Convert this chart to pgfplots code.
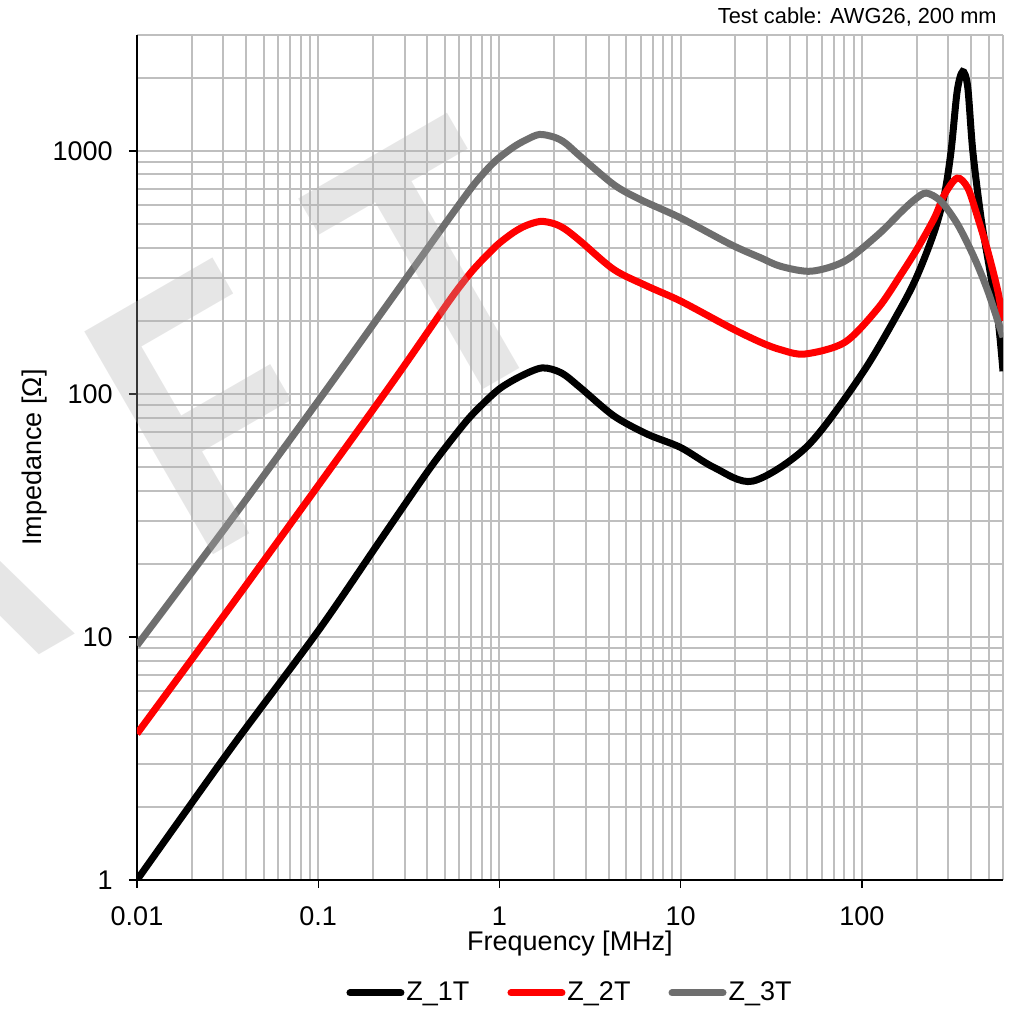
\documentclass[border=0pt]{standalone}
\usepackage{fontspec}
\setmainfont{Liberation Sans}
\usepackage{pgfplots}
\pgfplotsset{compat=1.18}

\definecolor{zgray}{RGB}{110,110,110}
\definecolor{gridgray}{RGB}{191,191,191}
\definecolor{wmgray}{RGB}{175,175,175}

\begin{document}
\fontsize{13.5}{16}\selectfont
\begin{tikzpicture}
\begin{axis}[
    at={(0,0)}, anchor=south west,
    width=433pt, height=422.5pt, scale only axis,
    xmode=log, ymode=log,
    xmin=0.01, xmax=600, ymin=1, ymax=3000,
    axis x line*=bottom, axis y line*=left,
    axis line style={black, line width=0.6pt},
    grid=both,
    major grid style={gridgray, line width=1pt},
    minor grid style={gridgray, line width=1pt},
    tick align=outside, major tick length=4pt, minor tick length=0pt,
    tick style={black, line width=0.6pt},
    xtick={0.01,0.1,1,10,100}, xticklabels={0.01,0.1,1,10,100},
    minor xtick={0.02,0.03,0.04,0.05,0.06,0.07,0.08,0.09,
                 0.2,0.3,0.4,0.5,0.6,0.7,0.8,0.9,
                 2,3,4,5,6,7,8,9,20,30,40,50,60,70,80,90,
                 200,300,400,500,600},
    ytick={1,10,100,1000}, yticklabels={1,10,100,1000},
    minor ytick={2,3,4,5,6,7,8,9,20,30,40,50,60,70,80,90,
                 200,300,400,500,600,700,800,900,2000,3000},
    xticklabel style={anchor=center, inner sep=0pt, yshift=-14pt},
    yticklabel style={anchor=east, inner sep=0pt, xshift=-8pt},
    xlabel={Frequency [MHz]},
    xlabel style={at={(axis description cs:0.5,-0.0746)}, anchor=center, inner sep=0pt},
    ylabel={Impedance [Ω]},
    ylabel style={at={(axis description cs:-0.1178,0.5)}, anchor=center, inner sep=0pt},
    legend columns=3,
    legend style={at={(axis description cs:0.5,-0.1337)}, anchor=center,
        draw=none, fill=none, inner sep=0pt,
        font=\fontsize{13.5}{16}\selectfont,
        nodes={inner sep=1pt},
        /tikz/every even column/.append style={column sep=18pt}},
    legend image code/.code={\draw[#1, line cap=round] (1.75pt,0pt) -- (27.25pt,0pt);},
]
% Z_1T
\addplot[black, line width=3.5pt, smooth] table {
0.01 1.0
0.0327 3.45
0.1 10.6
0.22 25
0.416 49.8
0.635 75
0.785 89
1.0 105
1.3 118
1.72 128
2.2 122
2.8 106
4.28 81.2
6.55 68.3
10 60.2
15.3 49.8
25 43.8
50 61
100 121
164 226
203 310
251 467
285 661
310 995
335 1755
359 2121
383 1841
409 995
454 530
505 330
562 206
600 124
};
\addlegendentry{Z\_1T}
% Z_2T
\addplot[red, line width=3.5pt, smooth] table {
0.01 4.0
0.0327 13.3
0.1 42
0.26 113
0.5 228
0.6 275
0.7 318
0.8 355
0.9 388
1.0 418
1.2 463
1.4 493
1.685 513
2.0 502
2.3 477
2.8 425
4.28 325
6.55 277.6
10 241
18.9 187
27.7 163
35.7 152
48.4 146
80.3 163
123 226
164 310
203 399
251 530
285 661
335 773
384 703
436 530
495 386
562 265
600 200
};
\addlegendentry{Z\_2T}
% Z_3T
\addplot[zgray, line width=3.5pt, smooth] table {
0.01 9.23
0.0327 30
0.1 93.6
0.2286 221
0.5 500
0.7 705
0.8 795
0.9 875
1.0 940
1.2 1040
1.4 1110
1.66 1169
2.0 1140
2.3 1080
2.8 949
4.28 726
6.01 630
10 530
18.9 412
27.7 363
35.7 335
52.5 320
80.3 352
123 453
164 560
195 630
226 671
273 620
338 497
417 363
495 265
586 181
600 171
};
\addlegendentry{Z\_3T}
\end{axis}

\node[anchor=east, inner sep=0pt, font=\fontsize{10.9}{13}\selectfont]
    at (430pt,431.5pt) {Test cable: AWG26, 200 mm};

% watermark
\begin{scope}
\clip (-68.5pt,-64.5pt) rectangle (442.5pt,440pt);
\begin{scope}[shift={(29.6pt,157.8pt)}, rotate=30, xscale=0.78]
  \tikzset{wm/.style={transform shape, anchor=base west, inner sep=0pt,
      outer sep=0pt, text=wmgray, text opacity=0.31,
      font=\fontsize{187}{187}\selectfont\bfseries}}
  \node[wm] at (-219.8pt,0pt) {A};
  \node[wm] at (0pt,0pt) {F};
  \node[wm] at (171.7pt,4pt) {T};
\end{scope}
\end{scope}

\pgfresetboundingbox
\useasboundingbox (-68.5pt,-64.5pt) rectangle (442.5pt,440pt);
\end{tikzpicture}
\end{document}
